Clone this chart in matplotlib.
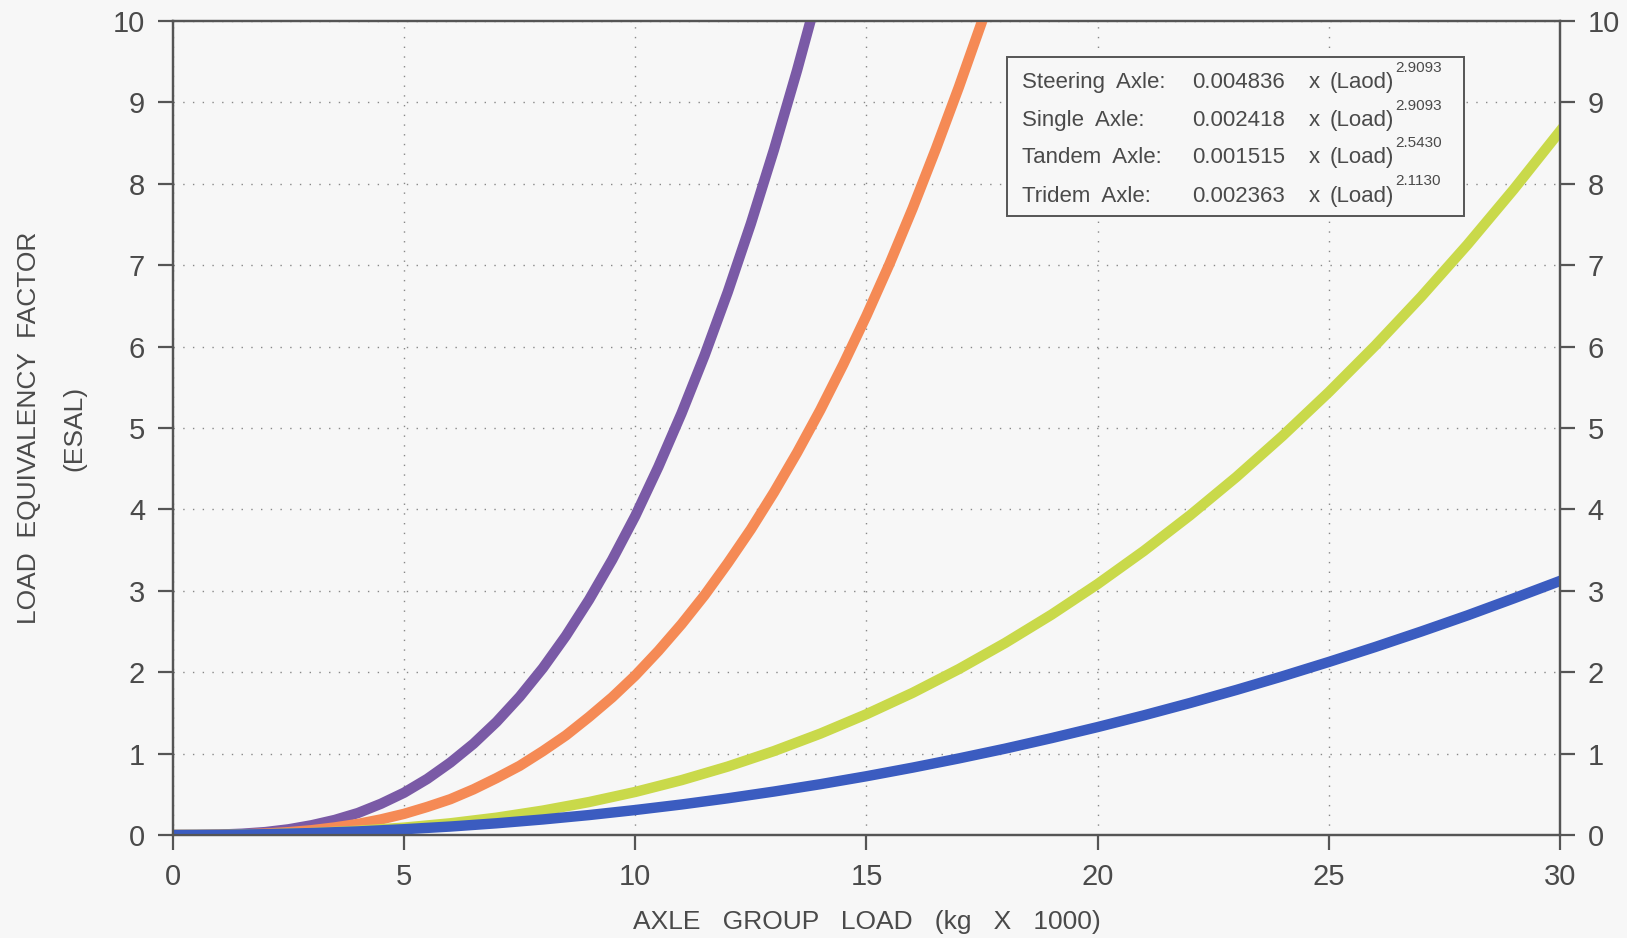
import numpy as np
import matplotlib
matplotlib.use("Agg")
import matplotlib.pyplot as plt
from matplotlib.patches import Rectangle

plt.rcParams['font.family'] = ['Liberation Sans', 'DejaVu Sans']

# axle group load (kg x 1000)
load = [0, 1, 2, 3, 4, 5, 6, 7, 8, 9, 10, 11, 12, 13, 14, 15,
        16, 17, 18, 19, 20, 21, 22, 23, 24, 25, 26, 27, 28, 29, 30]
# finer load steps for the two steep curves
load_fine = [0, 0.5, 1, 1.5, 2, 2.5, 3, 3.5, 4, 4.5, 5, 5.5, 6, 6.5, 7, 7.5,
             8, 8.5, 9, 9.5, 10, 10.5, 11, 11.5, 12, 12.5, 13, 13.5, 14, 14.5,
             15, 15.5, 16, 16.5, 17, 17.5, 18]

# ESAL values
steering = [0, 0.0006, 0.005, 0.016, 0.036, 0.07, 0.12, 0.185, 0.27, 0.384,
            0.52, 0.689, 0.89, 1.121, 1.39, 1.699, 2.05, 2.447, 2.89, 3.381,
            3.92, 4.524, 5.18, 5.894, 6.67, 7.511, 8.42, 9.396, 10.44]
single = [0, 0.0003, 0.0025, 0.008, 0.018, 0.035, 0.059, 0.093, 0.136, 0.192,
          0.26, 0.345, 0.44, 0.561, 0.70, 0.850, 1.03, 1.224, 1.45, 1.691,
          1.96, 2.262, 2.59, 2.947, 3.34, 3.756, 4.21, 4.698, 5.22, 5.783,
          6.38, 7.017, 7.70, 8.427, 9.19, 9.996, 10.86]
tandem = [0, 0.0015, 0.009, 0.025, 0.052, 0.091, 0.144, 0.213, 0.300, 0.405,
          0.529, 0.674, 0.841, 1.031, 1.245, 1.484, 1.747, 2.039, 2.359, 2.706,
          3.083, 3.490, 3.928, 4.398, 4.903, 5.440, 6.010, 6.614, 7.254, 7.932,
          8.646]
tridem = [0, 0.0024, 0.010, 0.024, 0.044, 0.071, 0.104, 0.144, 0.191, 0.245,
          0.307, 0.375, 0.451, 0.534, 0.624, 0.722, 0.828, 0.941, 1.061, 1.190,
          1.326, 1.470, 1.622, 1.782, 1.950, 2.126, 2.309, 2.500, 2.698, 2.907,
          3.121]

legend_names = ["Steering  Axle:", "Single  Axle:", "Tandem  Axle:", "Tridem  Axle:"]
legend_coefs = ["0.004836", "0.002418", "0.001515", "0.002363"]
legend_words = ["(Laod)", "(Load)", "(Load)", "(Load)"]
legend_exps = ["2.9093", "2.9093", "2.5430", "2.1130"]

colors = ["#7a5aa6", "#f58a55", "#c9d94a", "#3b5cc0"]
ink = "#4a4a4a"
bg = "#f7f7f7"

fig = plt.figure(figsize=(16.27, 9.38), dpi=100, facecolor=bg)
ax = fig.add_axes([0.1063, 0.1098, 0.8525, 0.8678], facecolor=bg)

ax.plot(load_fine[:len(steering)], steering, color=colors[0], lw=7.5, zorder=3)
ax.plot(load_fine[:len(single)], single, color=colors[1], lw=7.5, zorder=3)
ax.plot(load, tandem, color=colors[2], lw=7.5, zorder=3)
ax.plot(load, tridem, color=colors[3], lw=7.5, zorder=3)

ax.set_xlim(0, 30)
ax.set_ylim(0, 10)
ax.set_xticks(range(0, 31, 5))
ax.set_yticks(range(0, 11))
ax.grid(True, color="#888888", linestyle=(0, (1, 6)), linewidth=1.0)

ax2 = ax.twinx()
ax2.set_ylim(0, 10)
ax2.set_yticks(range(0, 11))

for a in (ax, ax2):
    for s in a.spines.values():
        s.set_color("#555555")
        s.set_linewidth(1.6)
    a.tick_params(direction='out', length=11, width=1.6, color="#555555",
                  labelsize=21, labelcolor=ink, pad=9)

ax.set_xlabel("AXLE   GROUP   LOAD   (kg   X   1000)", fontsize=19, color=ink,
              labelpad=14)
ax.set_ylabel("LOAD  EQUIVALENCY  FACTOR\n(ESAL)", fontsize=19, color=ink,
              labelpad=19, linespacing=2.15)

# formula box
ax.add_patch(Rectangle((0.601, 0.760), 0.330, 0.196, transform=ax.transAxes,
                       facecolor=bg, edgecolor="#555555", lw=1.4, zorder=5))
rows = [0.924, 0.878, 0.832, 0.785]
for yy, name, coef, word, ex in zip(rows, legend_names, legend_coefs,
                                    legend_words, legend_exps):
    kw = dict(transform=ax.transAxes, va='center', color=ink, zorder=6)
    ax.text(0.612, yy, name, fontsize=16, **kw)
    ax.text(0.735, yy, coef, fontsize=16, **kw)
    ax.text(0.819, yy, "x", fontsize=16, **kw)
    ax.text(0.834, yy, word, fontsize=16, **kw)
    ax.text(0.881, yy + 0.018, ex, fontsize=11, **kw)

fig.savefig("out.png", dpi=100, facecolor=bg)
